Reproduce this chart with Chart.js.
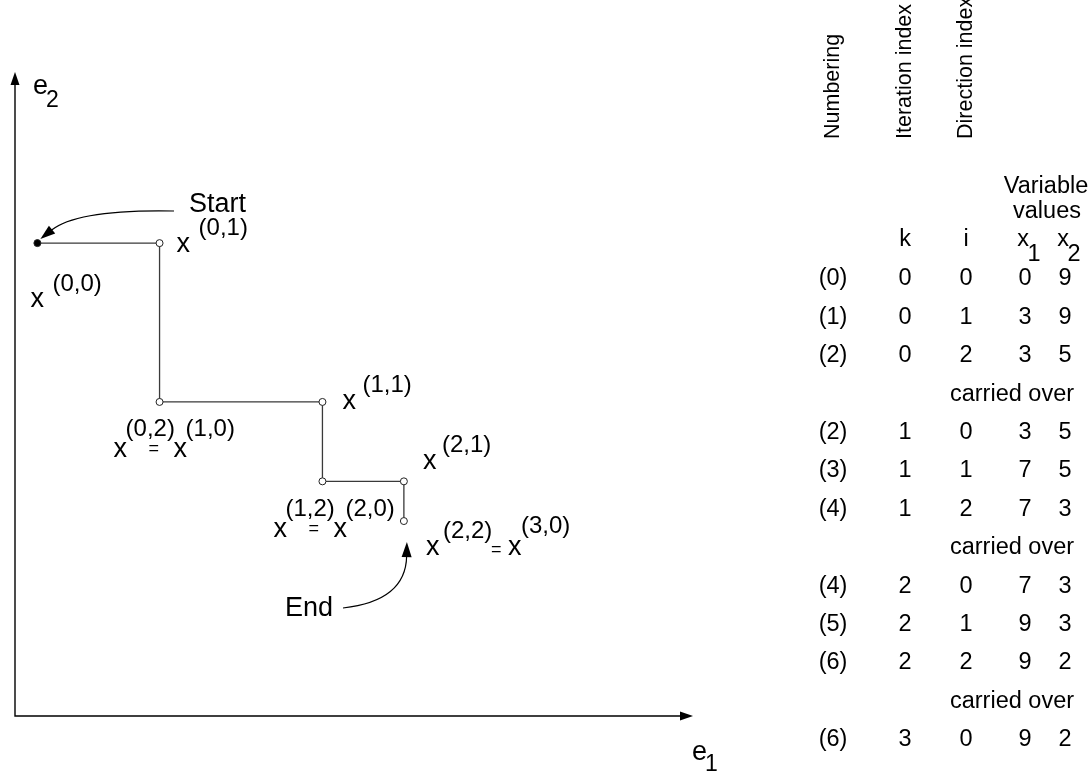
<!DOCTYPE html>
<html>
<head>
<meta charset="utf-8">
<script src="https://cdn.jsdelivr.net/npm/chart.js@4"></script>
<style>
  html, body { margin: 0; padding: 0; background: #fff; }
  canvas { display: block; }
</style>
</head>
<body>
<canvas id="chart" width="1092" height="771"></canvas>
<script>
// Cyclic coordinate search: one row per step of the iteration.
const numbering = ['(0)', '(1)', '(2)', '(2)', '(3)', '(4)', '(4)', '(5)', '(6)', '(6)'];
const iterK     = [0, 0, 0, 1, 1, 1, 2, 2, 2, 3];
const dirI      = [0, 1, 2, 0, 1, 2, 0, 1, 2, 0];
const x1Values  = [0, 3, 3, 3, 7, 7, 7, 9, 9, 9];
const x2Values  = [9, 9, 5, 5, 5, 3, 3, 3, 2, 2];
// A "carried over" line follows these rows.
const carriedAfter = [2, 5, 8];

// Superscript indices written next to each visited point (k,i); two entries mean x^(a) = x^(b).
const pointSups = [['0,0'], ['0,1'], ['0,2', '1,0'], ['1,1'], ['1,2', '2,0'], ['2,1'], ['2,2', '3,0']];

// Visited points: the first row, then every row that moves along a direction (i > 0).
const pathPoints = [];
x1Values.forEach((v, n) => {
  if (n === 0 || dirI[n] !== 0) pathPoints.push({ x: v, y: x2Values[n] });
});

const FONT = '"Liberation Sans", Arial, sans-serif';
const X_FONT = '27px ' + FONT;
const SUP_FONT = '24px ' + FONT;

function arrowHead(ctx, tipX, tipY, fromX, fromY, len, half) {
  const a = Math.atan2(tipY - fromY, tipX - fromX);
  ctx.beginPath();
  ctx.moveTo(tipX, tipY);
  ctx.lineTo(tipX - len * Math.cos(a) + half * Math.sin(a), tipY - len * Math.sin(a) - half * Math.cos(a));
  ctx.lineTo(tipX - len * Math.cos(a) - half * Math.sin(a), tipY - len * Math.sin(a) + half * Math.cos(a));
  ctx.closePath();
  ctx.fill();
}

// curved callout: bezier from (sx,sy) bent by (cx,cy), ending in a filled head at (tx,ty)
function callout(ctx, sx, sy, cx, cy, tx, ty) {
  const len = 15, half = 5;
  const a = Math.atan2(ty - cy, tx - cx);
  const bx = tx - (len - 1) * Math.cos(a), by = ty - (len - 1) * Math.sin(a);
  ctx.beginPath();
  ctx.moveTo(sx, sy);
  ctx.quadraticCurveTo(cx, cy, bx, by);
  ctx.stroke();
  arrowHead(ctx, tx, ty, cx, cy, len, half);
}

// x with a bracketed superscript
function xSup(ctx, left, base, sup, supDx, supDy) {
  ctx.textAlign = 'left';
  ctx.textBaseline = 'alphabetic';
  ctx.font = X_FONT;
  ctx.fillText('x', left, base);
  ctx.font = SUP_FONT;
  ctx.fillText('(' + sup + ')', left + supDx, base - supDy);
}

// x^(a) = x^(b) written with a small equals sign between
function xEq(ctx, left, base, a, b, lay) {
  xSup(ctx, left, base, a, lay.s1, lay.h1);
  ctx.font = '18px ' + FONT;
  ctx.textAlign = 'left';
  ctx.fillText('=', left + lay.eq, base + lay.eqDy);
  xSup(ctx, left + lay.x2, base, b, lay.s2 - lay.x2, lay.h2);
}

const annotations = {
  id: 'annotations',
  afterDraw(chart) {
    const ctx = chart.ctx;
    const area = chart.chartArea;
    const xs = chart.scales.x, ys = chart.scales.y;
    ctx.save();
    ctx.fillStyle = '#000';
    ctx.strokeStyle = '#000';

    // coordinate axes e1, e2
    ctx.lineWidth = 1.4;
    ctx.beginPath();
    ctx.moveTo(area.left, area.top + 10);
    ctx.lineTo(area.left, area.bottom);
    ctx.lineTo(area.right - 10, area.bottom);
    ctx.stroke();
    arrowHead(ctx, area.left, area.top, area.left, area.top + 20, 13, 4.5);
    arrowHead(ctx, area.right, area.bottom, area.right - 20, area.bottom, 13, 4.5);

    ctx.textAlign = 'left';
    ctx.textBaseline = 'alphabetic';
    ctx.font = X_FONT;
    ctx.fillText('e', area.left + 18, area.top + 22);
    ctx.fillText('e', area.right - 1, area.bottom + 44);
    ctx.font = '23px ' + FONT;
    ctx.fillText('2', area.left + 31, area.top + 35);
    ctx.fillText('1', area.right + 12, area.bottom + 55);

    // point labels
    const px = pathPoints.map(p => xs.getPixelForValue(p.x));
    const py = pathPoints.map(p => ys.getPixelForValue(p.y));
    const eqLay = { s1: 12, h1: 21, eq: 35, eqDy: -3, x2: 60, s2: 72, h2: 21 };
    const endLay = { s1: 17, h1: 17, eq: 65, eqDy: 0, x2: 82, s2: 95, h2: 22 };
    xSup(ctx, px[0] - 7, py[0] + 64, pointSups[0][0], 22, 16);
    xSup(ctx, px[1] + 17, py[1] + 9, pointSups[1][0], 22, 17);
    xEq(ctx, px[2] - 46, py[2] + 55, pointSups[2][0], pointSups[2][1], eqLay);
    xSup(ctx, px[3] + 20, py[3] + 7, pointSups[3][0], 20, 17);
    xEq(ctx, px[4] - 49, py[4] + 56, pointSups[4][0], pointSups[4][1], eqLay);
    xSup(ctx, px[5] + 19, py[5] - 12, pointSups[5][0], 19, 17);
    xEq(ctx, px[6] + 22, py[6] + 34, pointSups[6][0], pointSups[6][1], endLay);

    // Start / End callouts
    ctx.font = '27px ' + FONT;
    ctx.fillText('Start', 189, 212);
    ctx.fillText('End', 285, 616);
    ctx.lineWidth = 1.2;
    callout(ctx, 174, 211, px[0] + 40, py[0] - 34, px[0] + 3, py[0] - 4);
    callout(ctx, 343, 608, px[6] + 2, py[6] + 80, px[6] + 3, py[6] + 21);

    // table
    const colN = 833, colK = 905, colI = 966, colX1 = 1025, colX2 = 1065;
    ctx.font = '21.5px ' + FONT;
    ctx.textBaseline = 'middle';
    [['Numbering', colN], ['Iteration index', colK], ['Direction index', colI]].forEach(([t, cx]) => {
      ctx.save();
      ctx.translate(cx, 139);
      ctx.rotate(-Math.PI / 2);
      ctx.textAlign = 'left';
      ctx.fillText(t, 0, 0);
      ctx.restore();
    });
    ctx.font = '23.5px ' + FONT;
    ctx.textAlign = 'center';
    ctx.fillText('Variable', 1046, 187);
    ctx.fillText('values', 1047, 212);
    ctx.fillText('k', colK, 240);
    ctx.fillText('i', colI, 240);
    ctx.fillText('x', colX1 - 2, 240);
    ctx.fillText('x', colX2 - 2, 240);
    ctx.fillText('1', colX1 + 9, 255);
    ctx.fillText('2', colX2 + 9, 255);

    let y = 279;
    const step = 38.4;
    numbering.forEach((nm, n) => {
      ctx.fillText(nm, colN, y);
      ctx.fillText(String(iterK[n]), colK, y);
      ctx.fillText(String(dirI[n]), colI, y);
      ctx.fillText(String(x1Values[n]), colX1, y);
      ctx.fillText(String(x2Values[n]), colX2, y);
      y += step;
      if (carriedAfter.includes(n)) {
        ctx.fillText('carried over', 1012, y);
        y += step;
      }
    });
    ctx.restore();
  }
};

new Chart(document.getElementById('chart'), {
  type: 'scatter',
  data: {
    datasets: [{
      data: pathPoints,
      showLine: true,
      borderColor: '#3a3a3a',
      borderWidth: 1.3,
      pointRadius: 3.5,
      pointHoverRadius: 3.5,
      pointBorderWidth: 1,
      pointBorderColor: '#222',
      pointBackgroundColor: pathPoints.map((p, n) => n === 0 ? '#000' : '#fff')
    }]
  },
  options: {
    responsive: false,
    animation: false,
    events: [],
    layout: { padding: { left: 15, top: 72, right: 399, bottom: 55 } },
    scales: {
      x: { type: 'linear', min: -0.55, max: 16.1, display: false },
      y: { type: 'linear', min: -2.91, max: 13.31, display: false }
    },
    plugins: { legend: { display: false }, tooltip: { enabled: false } }
  },
  plugins: [annotations]
});
</script>
</body>
</html>
